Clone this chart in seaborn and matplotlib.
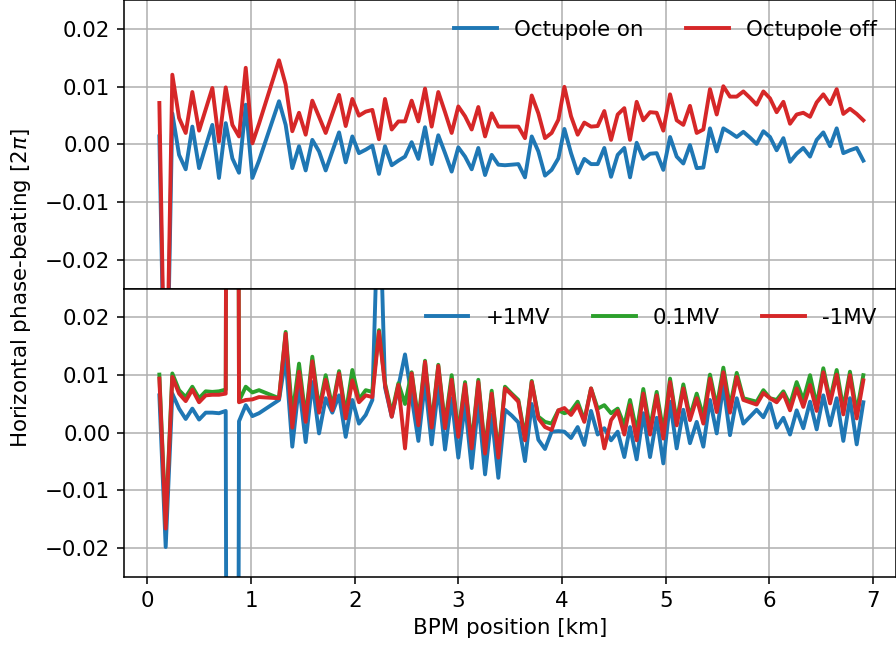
import matplotlib
matplotlib.use("Agg")
import matplotlib.pyplot as plt
import numpy as np
import pandas as pd
import seaborn as sns

# BPM positions [km]
bpm_km = [0.116, 0.177, 0.241, 0.306, 0.370, 0.434, 0.499, 0.563, 0.627, 0.691, 0.756, 0.820, 0.884, 0.949, 1.013, 1.077,
          1.270, 1.334, 1.398, 1.463, 1.527, 1.591, 1.656, 1.720, 1.784, 1.849, 1.913, 1.977, 2.041, 2.106, 2.170, 2.234,
          2.292, 2.357, 2.421, 2.485, 2.549, 2.614, 2.678, 2.742, 2.806, 2.871, 2.935, 2.999, 3.064, 3.128, 3.192, 3.257,
          3.321, 3.385, 3.449, 3.514, 3.578, 3.642, 3.707, 3.771, 3.835, 3.899, 3.964,
          4.022, 4.086, 4.150, 4.214, 4.279, 4.343, 4.407, 4.472, 4.536, 4.600,
          4.655, 4.719, 4.783, 4.848, 4.912, 4.976, 5.041, 5.105, 5.169, 5.233, 5.298, 5.362, 5.426, 5.491, 5.555, 5.619,
          5.684, 5.748, 5.812, 5.876, 5.941, 6.005, 6.069, 6.134, 6.198, 6.262, 6.326, 6.391, 6.455, 6.519, 6.584, 6.648,
          6.712, 6.776, 6.841, 6.905]

# Top panel
octupole_on = [0.0014, -0.055, 0.0054, -0.0018, -0.0043, 0.0031, -0.0041, -0.0003, 0.0034, -0.0058, 0.0037, -0.0024, -0.0049, 0.0069, -0.0058, -0.0028,
               0.0075, 0.0034, -0.0041, -0.0003, -0.0045, 0.0008, -0.0012, -0.0045, -0.0012, 0.0021, -0.0031, 0.0014, -0.0015, -0.0009, -0.0002, -0.0051,
               -0.0003, -0.0036, -0.0028, -0.0021, 0.0004, -0.0025, 0.0030, -0.0034, 0.0016, -0.0015, -0.0047, -0.0005, -0.0021, -0.0043, -0.0006, -0.0053,
               -0.0018, -0.0035, -0.0036, -0.0035, -0.0034, -0.0057, 0.0014, -0.0012, -0.0054, -0.0044, -0.0024,
               0.0027, -0.0015, -0.0050, -0.0025, -0.0034, -0.0034, -0.0006, -0.0056, -0.0018, -0.0006,
               -0.0057, 0.0003, -0.0025, -0.0016, -0.0015, -0.0044, 0.0013, -0.0021, -0.0033, -0.0001, -0.0041, -0.0040, 0.0028, -0.0012, 0.0028, 0.0021,
               0.0013, 0.0022, 0.0012, 0.0001, 0.0023, 0.0013, -0.0010, 0.0011, -0.0030, -0.0016, -0.0006, -0.0021, 0.0008, 0.0021, -0.0003, 0.0028,
               -0.0015, -0.0010, -0.0006, -0.0028]
octupole_off = [0.0072, -0.053, 0.0121, 0.0046, 0.0020, 0.0091, 0.0024, 0.0061, 0.0098, 0.0005, 0.0099, 0.0034, 0.0014, 0.0133, 0.0002, 0.0036,
                0.0146, 0.0104, 0.0023, 0.0055, 0.0017, 0.0076, 0.0048, 0.0020, 0.0053, 0.0086, 0.0032, 0.0079, 0.0050, 0.0057, 0.0060, 0.0009,
                0.0079, 0.0026, 0.0040, 0.0040, 0.0076, 0.0040, 0.0097, 0.0031, 0.0091, 0.0056, 0.0020, 0.0066, 0.0049, 0.0026, 0.0065, 0.0014,
                0.0054, 0.0031, 0.0031, 0.0031, 0.0031, 0.0011, 0.0085, 0.0054, 0.0011, 0.0020, 0.0043,
                0.0100, 0.0049, 0.0017, 0.0038, 0.0031, 0.0032, 0.0058, 0.0008, 0.0052, 0.0063,
                0.0008, 0.0074, 0.0042, 0.0056, 0.0055, 0.0024, 0.0087, 0.0042, 0.0034, 0.0067, 0.0020, 0.0026, 0.0096, 0.0052, 0.0101, 0.0083,
                0.0083, 0.0092, 0.0081, 0.0069, 0.0092, 0.0080, 0.0056, 0.0074, 0.0036, 0.0052, 0.0055, 0.0048, 0.0073, 0.0087, 0.0070, 0.0096,
                0.0053, 0.0062, 0.0053, 0.0042]

# Bottom panel
plus_1mv = [0.0065, -0.0198, 0.0068, 0.0042, 0.0024, 0.0042, 0.0023, 0.0035, 0.0035, 0.0034, 0.0038, -0.5, 0.0020, 0.0048, 0.0029, 0.0034,
            0.0057, 0.0130, -0.0024, 0.0083, -0.0016, 0.0088, -0.0001, 0.0060, 0.0035, 0.0065, -0.0007, 0.0057, 0.0016, 0.0031, 0.0057, 0.045,
            0.0079, 0.0028, 0.0080, 0.0136, 0.0062, -0.0014, 0.0088, -0.0020, 0.0080, -0.0029, 0.0060, -0.0043, 0.0051, -0.0061, 0.0053, -0.0072,
            0.0031, -0.0078, 0.0040, 0.0030, 0.0018, -0.0049, 0.0050, -0.0012, -0.0028, 0.0002, 0.0003,
            0.0002, -0.0009, 0.0010, -0.0021, 0.0038, -0.0003, 0.0008, -0.0013, 0.0002, -0.0042,
            0.0010, -0.0046, 0.0034, -0.0042, 0.0026, -0.0053, 0.0054, -0.0027, 0.0040, -0.0018, 0.0019, -0.0024, 0.0057, -0.0001, 0.0083, -0.0004,
            0.0060, 0.0016, 0.0028, 0.0040, 0.0027, 0.0051, 0.0009, 0.0026, -0.0003, 0.0039, 0.0008, 0.0054, 0.0006, 0.0065, 0.0013, 0.0060,
            -0.0014, 0.0060, -0.0020, 0.0053]
mv_0p1 = [0.0101, -0.0158, 0.0103, 0.0074, 0.0062, 0.0080, 0.0060, 0.0072, 0.0071, 0.0072, 0.0075, 0.5, 0.0055, 0.0080, 0.0070, 0.0074,
          0.0060, 0.0175, 0.0030, 0.0120, 0.0026, 0.0132, 0.0042, 0.0100, 0.0045, 0.0107, 0.0033, 0.0109, 0.0058, 0.0074, 0.0071, 0.0178,
          0.0086, 0.0034, 0.0086, 0.0050, 0.0105, 0.0022, 0.0125, 0.0015, 0.0118, 0.0015, 0.0100, 0.0000, 0.0088, -0.0020, 0.0092, -0.0030,
          0.0073, -0.0037, 0.0080, 0.0068, 0.0057, -0.0007, 0.0090, 0.0028, 0.0019, 0.0016, 0.0039,
          0.0034, 0.0038, 0.0054, 0.0022, 0.0077, 0.0042, 0.0048, 0.0034, 0.0042, 0.0013,
          0.0057, 0.0002, 0.0076, 0.0008, 0.0071, 0.0002, 0.0094, 0.0019, 0.0084, 0.0028, 0.0068, 0.0028, 0.0101, 0.0045, 0.0113, 0.0045,
          0.0104, 0.0060, 0.0057, 0.0054, 0.0074, 0.0060, 0.0057, 0.0072, 0.0049, 0.0088, 0.0057, 0.0100, 0.0048, 0.0112, 0.0057, 0.0109,
          0.0042, 0.0106, 0.0036, 0.0100]
minus_1mv = [0.0094, -0.0166, 0.0097, 0.0068, 0.0055, 0.0075, 0.0053, 0.0065, 0.0066, 0.0066, 0.0068, 0.5, 0.0053, 0.0057, 0.0058, 0.0062,
             0.0060, 0.0172, 0.0009, 0.0106, 0.0019, 0.0124, 0.0035, 0.0092, 0.0039, 0.0103, 0.0025, 0.0091, 0.0053, 0.0065, 0.0062, 0.0175,
             0.0083, 0.0028, 0.0083, -0.0027, 0.0103, 0.0013, 0.0123, 0.0009, 0.0116, 0.0008, 0.0092, -0.0007, 0.0084, -0.0027, 0.0088, -0.0036,
             0.0068, -0.0043, 0.0077, 0.0066, 0.0054, -0.0013, 0.0088, 0.0025, 0.0010, 0.0005, 0.0039,
             0.0043, 0.0031, 0.0048, 0.0019, 0.0077, 0.0036, -0.0027, 0.0022, 0.0038, -0.0003,
             0.0048, -0.0013, 0.0068, -0.0003, 0.0065, -0.0010, 0.0088, 0.0013, 0.0077, 0.0022, 0.0060, 0.0016, 0.0094, 0.0036, 0.0105, 0.0035,
             0.0097, 0.0057, 0.0053, 0.0049, 0.0069, 0.0060, 0.0053, 0.0068, 0.0039, 0.0077, 0.0045, 0.0083, 0.0038, 0.0105, 0.0051, 0.0101,
             0.0032, 0.0100, 0.0025, 0.0091]

x_ticks = [0, 1, 2, 3, 4, 5, 6, 7]
y_ticks = [-0.02, -0.01, 0.00, 0.01, 0.02]

plt.rcParams['font.family'] = ['DejaVu Sans']
plt.rcParams['font.size'] = 11

W, H, DPI = 896, 648, 140
fig, (ax1, ax2) = plt.subplots(2, 1, sharex=True, figsize=(W / DPI, H / DPI), dpi=DPI)
fig.subplots_adjust(left=124 / W, right=1.0, top=0.9995, bottom=1 - 577 / H, hspace=0)

lw = 2.0
sns.lineplot(x=bpm_km, y=octupole_on, ax=ax1, color='tab:blue', lw=lw, label='Octupole on')
sns.lineplot(x=bpm_km, y=octupole_off, ax=ax1, color='tab:red', lw=lw, label='Octupole off')

sns.lineplot(x=bpm_km, y=plus_1mv, ax=ax2, color='tab:blue', lw=lw, label='+1MV')
sns.lineplot(x=bpm_km, y=mv_0p1, ax=ax2, color='tab:green', lw=lw, label='0.1MV')
sns.lineplot(x=bpm_km, y=minus_1mv, ax=ax2, color='tab:red', lw=lw, label='-1MV')

for ax in (ax1, ax2):
    ax.set_ylim(-0.025, 0.025)
    ax.set_yticks(y_ticks)
    ax.grid(True, color='#b0b0b0', lw=0.8)
    ax.set_axisbelow(True)
    ax.set_ylabel('')
    for s in ax.spines.values():
        s.set_color('black')

ax2.set_xlim(-0.225, 7.22)
ax2.set_xticks(x_ticks)
ax2.set_xlabel('BPM position [km]')

ax1.legend(loc='upper right', ncol=2, frameon=False)
ax2.legend(loc='upper right', ncol=3, frameon=False)

fig.text(21 / W, 1 - 288 / H, r'Horizontal phase-beating [2$\pi$]', rotation=90,
         ha='center', va='center', fontsize=11)

fig.savefig('out.png', dpi=DPI)
